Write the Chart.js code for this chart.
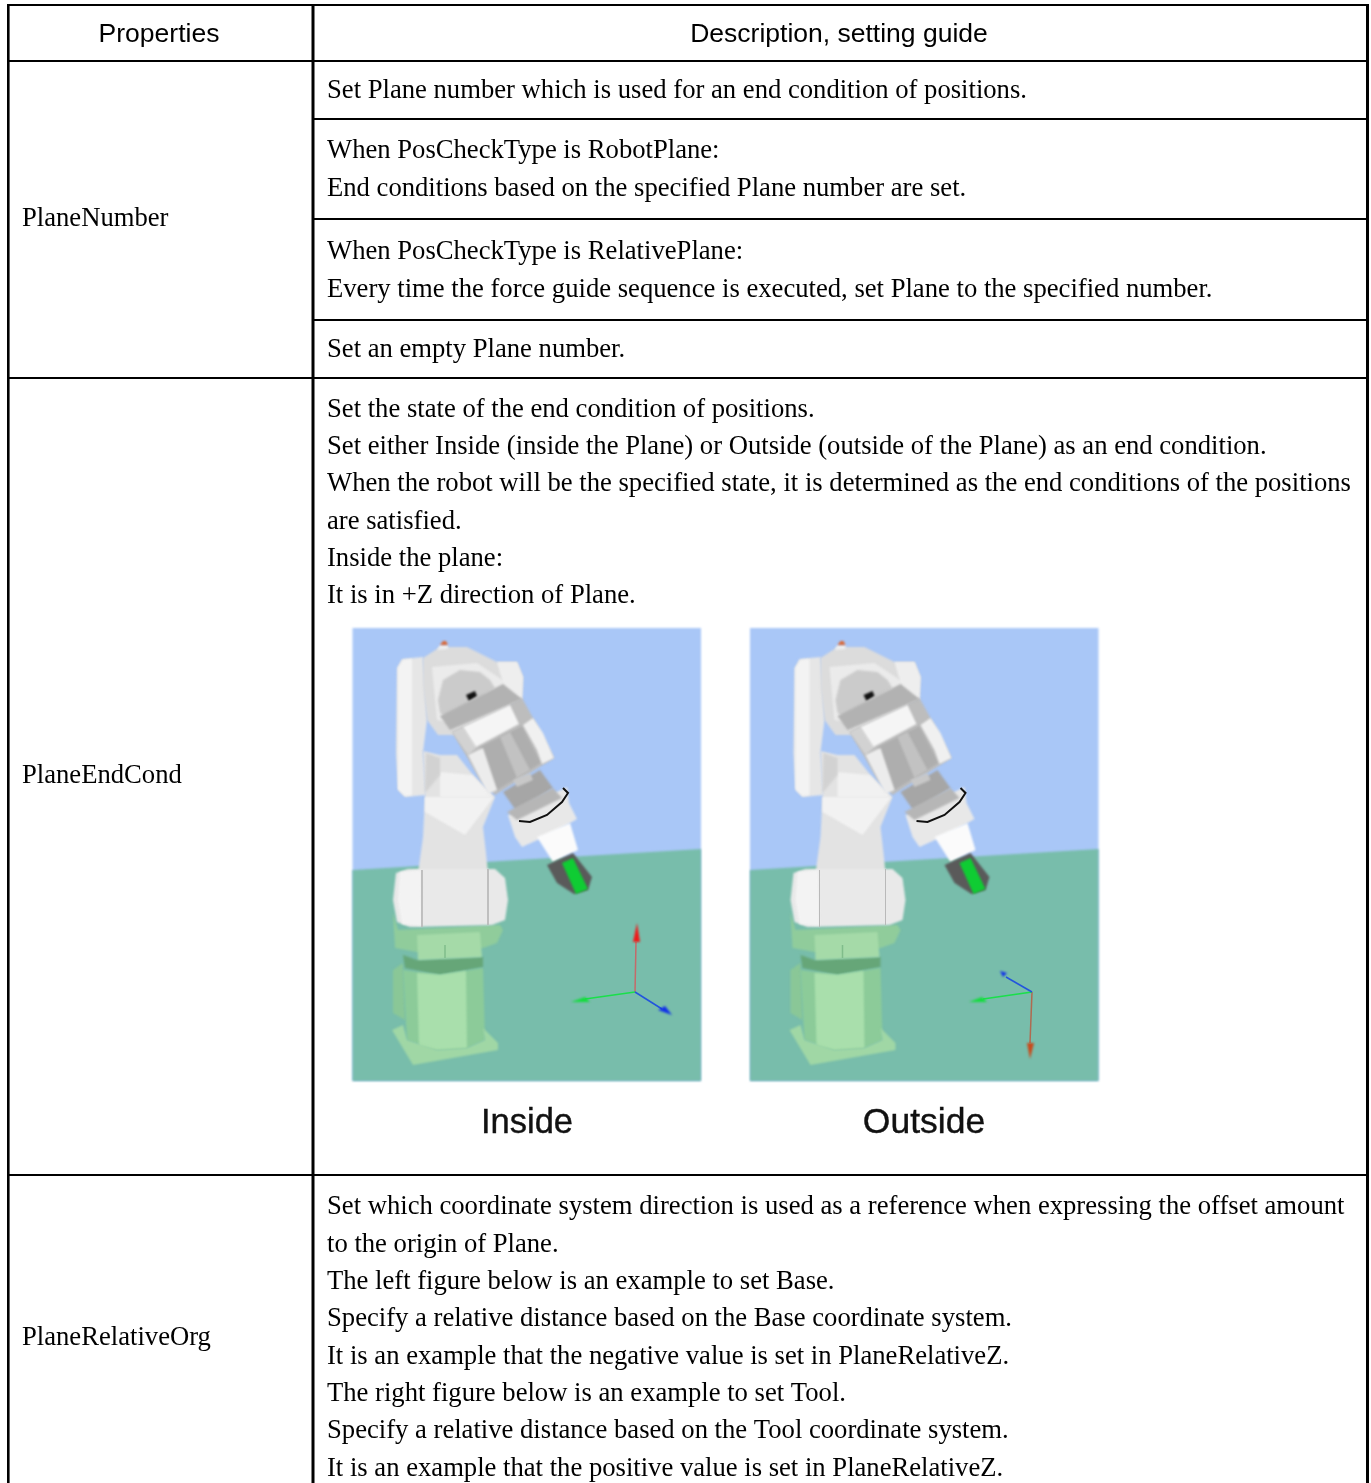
<!DOCTYPE html>
<html>
<head>
<meta charset="utf-8">
<style>
  body { margin: 0; background: #fff; }
  canvas { display: block; }
</style>
<script src="https://cdn.jsdelivr.net/npm/chart.js@4"></script>
</head>
<body>
<canvas id="tableChart" width="1371" height="1483"></canvas>
<script>
// texts of the table
const headerLabels = ['Properties', 'Description, setting guide'];
const propertyLabels = ['PlaneNumber', 'PlaneEndCond', 'PlaneRelativeOrg'];
const propertyY = [225.5, 782.5, 1344.5];
const descLines = [
  'Set Plane number which is used for an end condition of positions.',
  'When PosCheckType is RobotPlane:',
  'End conditions based on the specified Plane number are set.',
  'When PosCheckType is RelativePlane:',
  'Every time the force guide sequence is executed, set Plane to the specified number.',
  'Set an empty Plane number.',
  'Set the state of the end condition of positions.',
  'Set either Inside (inside the Plane) or Outside (outside of the Plane) as an end condition.',
  'When the robot will be the specified state, it is determined as the end conditions of the positions',
  'are satisfied.',
  'Inside the plane:',
  'It is in +Z direction of Plane.',
  'Set which coordinate system direction is used as a reference when expressing the offset amount',
  'to the origin of Plane.',
  'The left figure below is an example to set Base.',
  'Specify a relative distance based on the Base coordinate system.',
  'It is an example that the negative value is set in PlaneRelativeZ.',
  'The right figure below is an example to set Tool.',
  'Specify a relative distance based on the Tool coordinate system.',
  'It is an example that the positive value is set in PlaneRelativeZ.'
];
const descY = [97.5, 157.5, 195.5, 258.5, 296.5, 356.5, 416.5, 453.5, 490.5, 528.5, 565.5, 602.5, 1213.5, 1251.5, 1288.5, 1325.5, 1363.5, 1400.5, 1437.5, 1475.5];
const captions = ['Inside', 'Outside'];

// table rules, [x0, y0, x1, y1]
const leftRule = [8.3, 4, 8.3, 1483];
const rightRule = [1367.5, 4, 1367.5, 1483];
const columnRule = [313, 4, 313, 1483];
const fullRules = [[7, 5, 1369, 5], [7, 61, 1369, 61], [7, 378, 1369, 378], [7, 1175, 1369, 1175]];
const rowRules = [[313, 119, 1367, 119], [313, 219, 1367, 219], [313, 320, 1367, 320]];

// figure outlines
const sky = [[352.5, 628], [701, 628], [701, 1081], [352.5, 1081]];
const ground = [[352.5, 870], [701, 849], [701, 1081], [352.5, 1081]];
const backArm = [[397, 668], [402, 659], [423, 657], [427, 720], [423, 752], [426, 795], [405, 797], [398, 790], [396, 753]];
const backArmLight = [[398, 668], [403, 660], [412, 659], [412, 795], [405, 796], [398, 789]];
const body = [[423, 751], [440, 755], [457, 755], [473, 775], [495, 797], [483, 827], [486, 853], [488, 873], [418, 873], [423, 837], [425, 797]];
const bodyWedge = [[440, 772], [472, 775], [493, 797], [440, 797]];
const bodyFacet = [[425, 797], [494, 797], [465, 835], [425, 812]];
const bodyShadow = [[426, 753], [440, 758], [440, 775], [425, 793]];
const head = [[423, 658], [440, 647], [467, 647], [497, 662], [517, 662], [523, 677], [522, 700], [453, 735], [438, 735], [427, 720], [423, 687]];
const headFace = [[432, 667], [477, 663], [507, 683], [453, 723], [437, 720]];
const headCap = [[497, 662], [517, 662], [523, 677], [522, 700], [505, 690]];
const dial = [[438, 700], [443, 680], [460, 670], [480, 672], [490, 680], [495, 688], [447, 717], [440, 713]];
const slot = [[466, 695], [475, 691], [477, 696], [469, 701]];
const beaconBase = [[437, 650], [440, 645], [448, 645], [448, 649]];
const beacon = [[440, 645], [443, 641], [446, 641], [448, 645]];
const collar = [[440, 716], [503, 684], [522, 699], [450, 730]];
const forearm = [[452, 732], [522, 698], [533, 718], [554, 758], [495, 795], [480, 780], [467, 757]];
const forearmTube = [[480, 747], [522, 726], [541, 763], [497, 790]];
const forearmTubeMid = [[500, 737], [510, 732], [530, 770], [517, 778]];
const forearmLeftTop = [[452, 732], [463, 727], [477, 747], [468, 755]];
const forearmLeft = [[468, 755], [483, 748], [497, 790], [488, 794]];
const forearmRight = [[523, 725], [533, 718], [543, 733], [554, 758], [542, 764], [537, 750]];
const plate = [[463, 727], [510, 705], [519, 724], [476, 747]];
const wrist = [[503, 792], [540, 770], [553, 788], [517, 812]];
const wristBox = [[513, 780], [530, 773], [533, 780], [517, 787]];
const flange = [[508, 815], [527, 807], [567, 787], [569, 803], [577, 819], [553, 833], [522, 847], [515, 837]];
const flangeBand = [[507, 812], [553, 788], [562, 798], [517, 820]];
const tool = [[537, 837], [570, 823], [578, 850], [553, 862]];
const gripper = [[547, 865], [573, 853], [592, 877], [588, 890], [574, 894], [557, 883]];
const gripperGreen = [[562, 863], [573, 858], [588, 889], [576, 894]];
const lowerArm = [[396, 873], [408, 869], [495, 869], [505, 878], [508, 900], [505, 920], [492, 925], [410, 927], [397, 922], [393, 900]];
const lowerArmLight = [[400, 872], [421, 870], [422, 926], [402, 924], [398, 900]];
const housing = [[393, 913], [398, 930], [500, 925], [503, 930], [497, 943], [483, 948], [417, 952], [395, 948]];
const block = [[417, 935], [480, 932], [482, 957], [418, 960]];
const ringDark = [[403, 955], [417, 960], [483, 957], [483, 967], [440, 975], [405, 968]];
const sideLump = [[393, 970], [403, 963], [405, 1020], [393, 1013]];
const column = [[403, 970], [440, 975], [483, 968], [485, 1040], [467, 1048], [437, 1050], [407, 1040]];
const columnLight = [[417, 973], [440, 975], [466, 971], [467, 1048], [437, 1050], [419, 1046]];
const basePlate = [[392, 1030], [403, 1025], [407, 1040], [437, 1050], [467, 1048], [485, 1040], [483, 1028], [498, 1043], [498, 1050], [413, 1065], [410, 1060]];

// open strokes of the figure
const blackRing = [[519, 821], [530, 822], [547, 815], [562, 802], [568, 793], [563, 788]];
const armSeamA = [[422, 870], [422, 927]];
const armSeamB = [[488, 869], [488, 925]];
const blockNotch = [[445, 945], [445, 958]];

// coordinate arrows of each panel
const insideRed = [[635, 992], [636, 942]];
const insideRedHead = [[633, 942], [640, 942], [637, 923]];
const insideGreen = [[635, 992], [585, 999]];
const insideGreenHead = [[571, 1002], [585, 997], [590, 1002]];
const insideBlue = [[635, 992], [662, 1009]];
const insideBlueHead = [[658, 1010], [665, 1006], [672, 1015]];
const outsideRed = [[1032, 992], [1030, 1043]];
const outsideRedHead = [[1027, 1043], [1034, 1043], [1030, 1059]];
const outsideGreen = [[1032, 992], [983, 999]];
const outsideGreenHead = [[969, 1002], [982, 997], [987, 1002]];
const outsideBlue = [[1032, 992], [1006, 977]];
const outsideBlueHead = [[1000, 971], [1007, 973], [1003, 977]];

// the right panel shows the same robot, moved over
const panelShift = 397.5;

function toPoints(list, dx) {
  return list.map(p => ({ x: p[0] + dx, y: p[1] }));
}
function stroke(list, color, width, dx) {
  return { data: toPoints(list, dx || 0), showLine: true, borderColor: color, borderWidth: width, pointRadius: 0, borderCapStyle: 'butt' };
}
function solid(list, color, dx) {
  return { data: toPoints(list, dx || 0), showLine: false, pointRadius: 0, closedColor: color };
}
function rule(r, width) {
  return stroke([[r[0], r[1]], [r[2], r[3]]], '#000', width);
}

const robotParts = [
  [backArm, '#e6e6e6'], [backArmLight, '#f3f3f3'],
  [body, '#e3e3e3'], [bodyWedge, '#f1f1f1'], [bodyShadow, '#d2d2d2'], [bodyFacet, '#f2f2f2'],
  [head, '#dcdcdc'], [headFace, '#ebebeb'], [headCap, '#eeeeee'], [dial, '#cbcbcb'], [slot, '#111111'],
  [beaconBase, '#eeeeee'], [beacon, '#d96a3a'],
  [forearm, '#bdbdbd'], [collar, '#b2b2b2'], [forearmTube, '#aeaeae'], [forearmTubeMid, '#c2c2c2'],
  [forearmLeftTop, '#d2d2d2'], [forearmLeft, '#ececec'], [forearmRight, '#f0f0f0'], [plate, '#f5f5f5'],
  [wrist, '#a6a6a6'], [wristBox, '#c8c8c8'],
  [flange, '#e8e8e8'], [flangeBand, '#b6b6b6'], [tool, '#fbfbfb'],
  [gripper, '#5a5a5a'], [gripperGreen, '#0fcc33'],
  [housing, '#90cc9b'], [lowerArm, '#e9e9e9'], [lowerArmLight, '#f3f3f3'],
  [sideLump, '#8ac797'], [ringDark, '#66a678'], [column, '#8ccb99'], [columnLight, '#a9dfac'], [block, '#a5daa8'], [basePlate, '#a0d7a5']
];

const datasets = [];
[0, panelShift].forEach(dx => {
  datasets.push(solid(sky, '#a9c7f7', dx), solid(ground, '#78bdab', dx));
  robotParts.forEach(part => datasets.push(solid(part[0], part[1], dx)));
  datasets.push(
    stroke(blackRing, '#111111', 2, dx),
    stroke(armSeamA, '#b9b9b9', 1, dx),
    stroke(armSeamB, '#b9b9b9', 1, dx),
    stroke(blockNotch, '#80bd8a', 1.5, dx)
  );
});
datasets.push(
  stroke(insideRed, '#c46a6a', 1.5), solid(insideRedHead, '#f01818'),
  stroke(insideGreen, '#19e04a', 1.5), solid(insideGreenHead, '#12dd3c'),
  stroke(insideBlue, '#2255dd', 1.5), solid(insideBlueHead, '#1030e8'),
  stroke(outsideRed, '#b06a50', 1.5), solid(outsideRedHead, '#c84a1a'),
  stroke(outsideGreen, '#19e04a', 1.5), solid(outsideGreenHead, '#12dd3c'),
  stroke(outsideBlue, '#2255dd', 1.5), solid(outsideBlueHead, '#1030e8')
);
datasets.push(rule(leftRule, 2.6), rule(rightRule, 3), rule(columnRule, 3));
fullRules.forEach(r => datasets.push(rule(r, 2)));
rowRules.forEach(r => datasets.push(rule(r, 2)));
// later datasets go on top
datasets.forEach((d, i) => { d.order = -i; });

// fills closed outlines from the points the scales placed
const closedShapes = {
  id: 'closedShapes',
  beforeDatasetDraw(chart, args) {
    const ds = chart.data.datasets[args.index];
    if (!ds.closedColor) return;
    const ctx = chart.ctx;
    ctx.save();
    ctx.filter = 'blur(0.9px)';
    ctx.fillStyle = ds.closedColor;
    ctx.beginPath();
    args.meta.data.forEach((el, i) => i ? ctx.lineTo(el.x, el.y) : ctx.moveTo(el.x, el.y));
    ctx.closePath();
    ctx.fill();
    ctx.restore();
  }
};

// table text, placed through the same scales
const tableText = {
  id: 'tableText',
  afterDatasetsDraw(chart) {
    const { ctx, scales: { x, y } } = chart;
    const put = (txt, px, py, font, align, outline) => {
      ctx.font = font;
      ctx.textAlign = align;
      ctx.fillText(txt, x.getPixelForValue(px), y.getPixelForValue(py));
      if (outline) ctx.strokeText(txt, x.getPixelForValue(px), y.getPixelForValue(py));
    };
    ctx.save();
    ctx.fillStyle = '#000';
    ctx.textBaseline = 'alphabetic';
    const sans = '26.5px "Liberation Sans"';
    const serif = '26.65px "Liberation Serif"';
    put(headerLabels[0], 159, 42, sans, 'center');
    put(headerLabels[1], 839, 42, sans, 'center');
    propertyLabels.forEach((t, i) => put(t, 22, propertyY[i], serif, 'left'));
    descLines.forEach((t, i) => put(t, 327, descY[i], serif, 'left'));
    ctx.filter = 'blur(0.6px)';
    ctx.fillStyle = '#111';
    ctx.strokeStyle = '#111';
    ctx.lineWidth = 0.4;
    put(captions[0], 527, 1133, '34.5px "Liberation Sans"', 'center', true);
    put(captions[1], 924, 1133, '35.5px "Liberation Sans"', 'center', true);
    ctx.restore();
  }
};

new Chart(document.getElementById('tableChart'), {
  type: 'scatter',
  data: { datasets },
  options: {
    responsive: false,
    animation: false,
    layout: { padding: 0 },
    plugins: { legend: { display: false }, tooltip: { enabled: false } },
    scales: {
      x: { type: 'linear', display: false, min: 0, max: 1371 },
      y: { type: 'linear', display: false, min: 0, max: 1483, reverse: true }
    }
  },
  plugins: [closedShapes, tableText]
});
</script>
</body>
</html>
